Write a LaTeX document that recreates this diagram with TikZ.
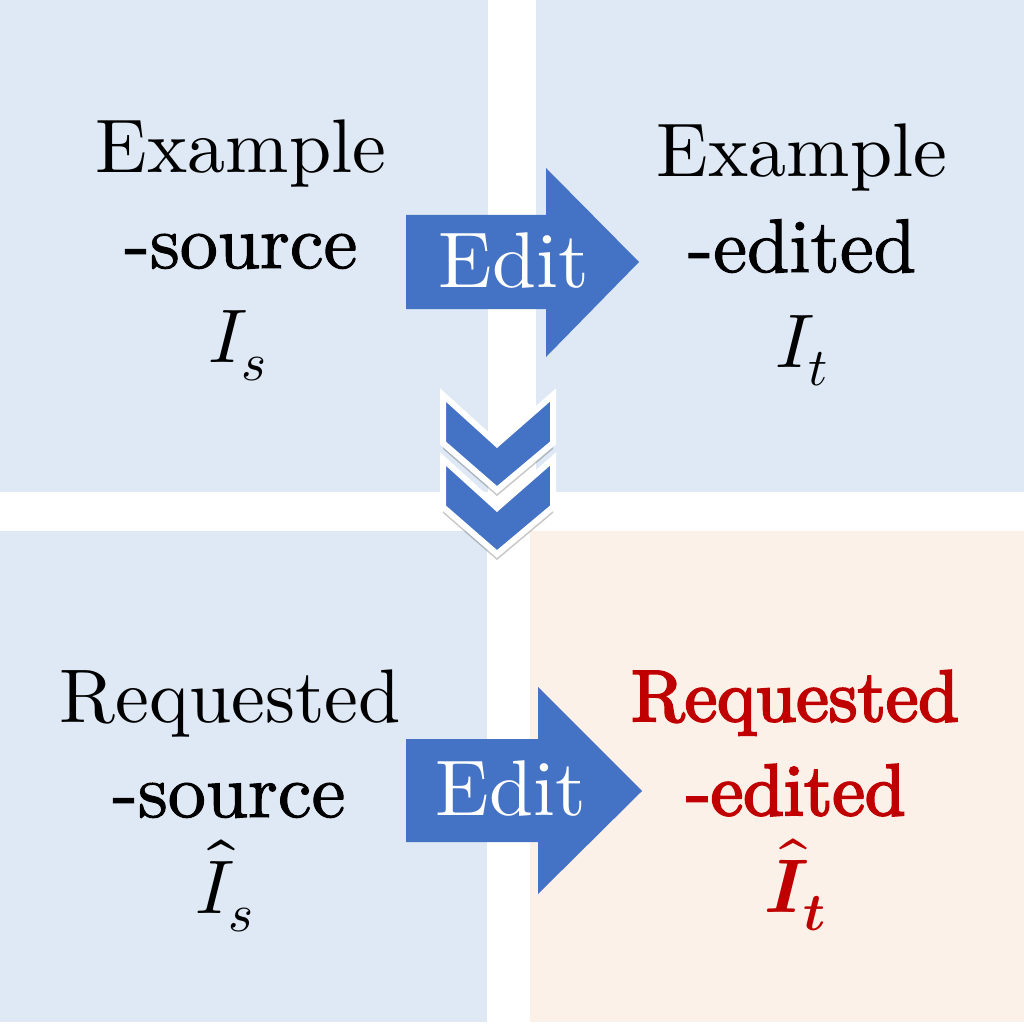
\documentclass[tikz,border=0pt]{standalone}
\usepackage{fontspec}
\usepackage{unicode-math}
\setmainfont{lmroman10-regular.otf}
\setmathfont{latinmodern-math.otf}
\newfontfamily\fakebold[FakeBold=3]{lmroman10-regular.otf}
\newfontfamily\semibold[FakeBold=1.3]{lmroman10-regular.otf}
\usetikzlibrary{shadows}
\definecolor{panelblue}{HTML}{DEE9F5}
\definecolor{panelpeach}{HTML}{FCF1E9}
\definecolor{arrowblue}{HTML}{4472C4}
\definecolor{darkred}{HTML}{C00000}
\tikzset{
  panel/.style={fill=panelblue, draw=none},
  lbl/.style={anchor=base, inner sep=0pt, font=\fontsize{76}{90}\selectfont},
  lbltwo/.style={anchor=base, inner sep=0pt, font=\fontsize{76}{90}\selectfont\semibold},
  redlbl/.style={anchor=base, inner sep=0pt, text=darkred, font=\fontsize{73}{90}\selectfont\fakebold},
  editlbl/.style={anchor=base, inner sep=0pt, text=white, font=\fontsize{79}{90}\selectfont},
  bigarrow/.style={fill=arrowblue, draw=none},
  chev/.style={fill=arrowblue, draw=white, line width=6pt, line join=miter,
    drop shadow={shadow xshift=0pt, shadow yshift=-6pt, opacity=0.22, fill=black}},
}
\begin{document}
\begin{tikzpicture}[x=1pt, y=-1pt]
\useasboundingbox (0,0) rectangle (1024,1024);
\fill[white] (0,0) rectangle (1024,1024);
% panels
\path[panel] (0,0) rectangle (488,492);
\path[panel] (536,0) rectangle (1024,492);
\path[panel] (0,531) rectangle (487,1022);
\path[fill=panelpeach] (530,531) rectangle (1024,1022);

% top-left texts
\node[lbl] (tl1) at (241,173) {Example};
\node[lbltwo] (tl2) at (241,268) {-source};
\node[lbl] (tl3) at (238,362) {$I_s$};
% top-right texts
\node[lbl] (tr1) at (802,177) {Example};
\node[lbltwo] (tr2) at (802,272) {-edited};
\node[lbl] (tr3) at (802,367) {$I_t$};
% bottom-left texts
\node[lbl] (bl1) at (230,722) {Requested};
\node[lbltwo] (bl2) at (229,817) {-source};
\node[lbl] (bl3) at (225,913) {$\hat{I}_s$};
% bottom-right texts
\node[redlbl] (br1) at (795,721) {Requested};
\node[redlbl] (br2) at (796,815) {-edited};
\node[anchor=base, inner sep=0pt, text=darkred, font=\fontsize{76}{90}\selectfont] (br3) at (795,912) {$\hat{\symbfit{I}}_{\symbfit{t}}$};

% edit arrows
\path[bigarrow] (406,215) -- (546,215) -- (546,168) -- (639,262) -- (546,357) -- (546,309) -- (406,309) -- cycle;
\node[editlbl] (e1) at (514,287) {Edit};
\path[bigarrow] (406,739) -- (538,739) -- (538,687) -- (642,791) -- (538,894) -- (538,842) -- (406,842) -- cycle;
\node[editlbl] (e2) at (511,815) {Edit};

% chevrons
\path[chev] (443,459) -- (497,508) -- (553,459) -- (553,507) -- (497,554) -- (443,507) -- cycle;
\path[chev] (443,395) -- (497,444) -- (553,395) -- (553,443) -- (497,490) -- (443,443) -- cycle;
\end{tikzpicture}
\end{document}
